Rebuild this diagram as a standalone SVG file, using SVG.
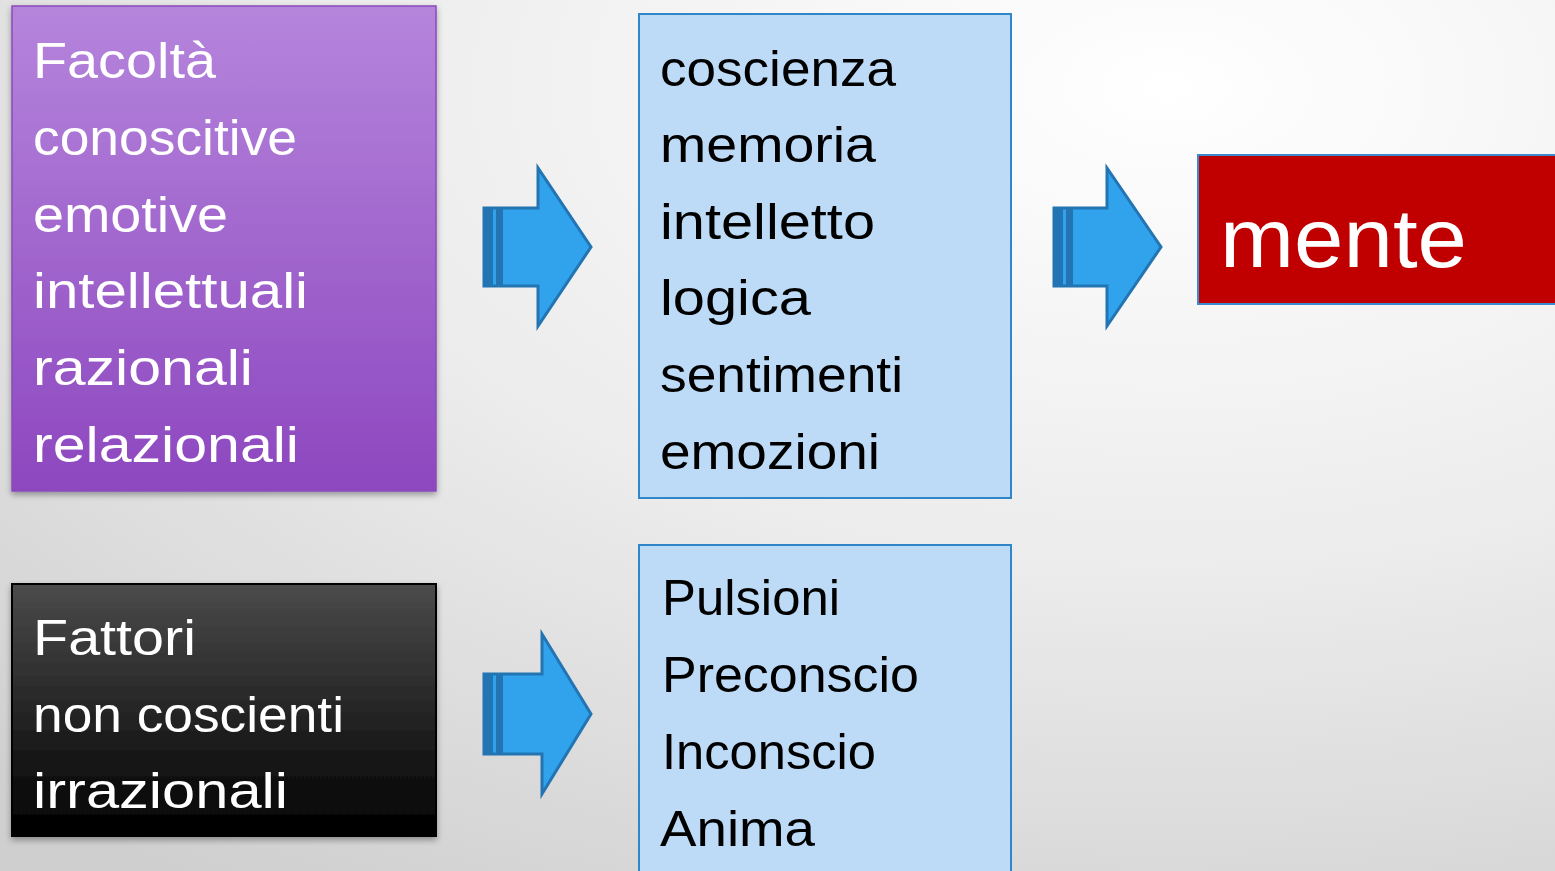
<svg xmlns="http://www.w3.org/2000/svg" width="1555" height="871" viewBox="0 0 1555 871">
<defs>
<radialGradient id="bg" cx="0.75" cy="0.1" r="1.1">
<stop offset="0" stop-color="#ffffff"/>
<stop offset="0.5" stop-color="#ececec"/>
<stop offset="1" stop-color="#cfcfcf"/>
</radialGradient>
<linearGradient id="purple" x1="0" y1="0" x2="0" y2="1">
<stop offset="0" stop-color="#b585dc"/>
<stop offset="1" stop-color="#8d47bf"/>
</linearGradient>
<linearGradient id="dark" x1="0" y1="0" x2="0" y2="1">
<stop offset="0" stop-color="#4b4b4b"/>
<stop offset="1" stop-color="#000000"/>
</linearGradient>
<filter id="sh" x="-5%" y="-5%" width="110%" height="115%">
<feDropShadow dx="0" dy="3" stdDeviation="3" flood-color="#000" flood-opacity="0.35"/>
</filter>
</defs>
<style>
.t{font-family:"Liberation Sans","DejaVu Sans",sans-serif;font-size:50px;}
.w{fill:#ffffff;}
.k{fill:#000000;}
.blue{fill:#bddbf6;stroke:#2f86c9;stroke-width:2;}
.arr{fill:#30a3ec;stroke:#2274b3;stroke-width:3;stroke-linejoin:miter;}
.str{fill:#2274b3;}
.strl{fill:#30a3ec;}
</style>
<rect width="1555" height="871" fill="url(#bg)"/>

<g id="node-facolta">
<rect x="12" y="6" width="424" height="485" fill="url(#purple)" stroke="#8a4bbd" stroke-width="1.5" filter="url(#sh)"/>
<text class="t w" x="33" y="78" textLength="183" lengthAdjust="spacingAndGlyphs">Facoltà</text>
<text class="t w" x="33" y="155" textLength="264" lengthAdjust="spacingAndGlyphs">conoscitive</text>
<text class="t w" x="33" y="232" textLength="195" lengthAdjust="spacingAndGlyphs">emotive</text>
<text class="t w" x="33" y="308" textLength="275" lengthAdjust="spacingAndGlyphs">intellettuali</text>
<text class="t w" x="33" y="385" textLength="220" lengthAdjust="spacingAndGlyphs">razionali</text>
<text class="t w" x="33" y="462" textLength="266" lengthAdjust="spacingAndGlyphs">relazionali</text>
</g>

<g id="node-fattori">
<rect x="12" y="584" width="424" height="252" fill="url(#dark)" stroke="#000" stroke-width="2" filter="url(#sh)"/>
<text class="t w" x="33" y="655" textLength="163" lengthAdjust="spacingAndGlyphs">Fattori</text>
<text class="t w" x="33" y="732" textLength="311" lengthAdjust="spacingAndGlyphs">non coscienti</text>
<text class="t w" x="33" y="808" textLength="255" lengthAdjust="spacingAndGlyphs">irrazionali</text>
</g>

<g id="node-coscienza">
<rect class="blue" x="639" y="14" width="372" height="484"/>
<text class="t k" x="660" y="86" textLength="236" lengthAdjust="spacingAndGlyphs">coscienza</text>
<text class="t k" x="660" y="162" textLength="216" lengthAdjust="spacingAndGlyphs">memoria</text>
<text class="t k" x="660" y="239" textLength="215" lengthAdjust="spacingAndGlyphs">intelletto</text>
<text class="t k" x="660" y="315" textLength="151" lengthAdjust="spacingAndGlyphs">logica</text>
<text class="t k" x="660" y="392" textLength="243" lengthAdjust="spacingAndGlyphs">sentimenti</text>
<text class="t k" x="660" y="469" textLength="220" lengthAdjust="spacingAndGlyphs">emozioni</text>
</g>

<g id="node-pulsioni">
<rect class="blue" x="639" y="545" width="372" height="340"/>
<text class="t k" x="662" y="615" textLength="178" lengthAdjust="spacingAndGlyphs">Pulsioni</text>
<text class="t k" x="662" y="692" textLength="257" lengthAdjust="spacingAndGlyphs">Preconscio</text>
<text class="t k" x="662" y="769" textLength="214" lengthAdjust="spacingAndGlyphs">Inconscio</text>
<text class="t k" x="660" y="846" textLength="155" lengthAdjust="spacingAndGlyphs">Anima</text>
</g>

<g id="node-mente">
<rect x="1198" y="155" width="370" height="149" fill="#c00000" stroke="#3b8ad0" stroke-width="2"/>
<text class="t w" x="1220" y="267" style="font-size:84px" textLength="247" lengthAdjust="spacingAndGlyphs">mente</text>
</g>

<g id="connectors">
<g id="arrow1">
<path class="arr" d="M484,208 L538,208 L538,168 L591,247 L538,326 L538,286 L484,286 Z"/>
<rect class="str" x="484" y="208" width="9" height="78"/>
<rect class="str" x="496" y="208" width="7" height="78"/>
</g>
<g id="arrow2">
<path class="arr" d="M1054,208 L1107,208 L1107,168 L1161,247 L1107,326 L1107,286 L1054,286 Z"/>
<rect class="str" x="1054" y="208" width="9" height="78"/>
<rect class="str" x="1066" y="208" width="7" height="78"/>
</g>
<g id="arrow3">
<path class="arr" d="M484,674 L542,674 L542,634 L591,714 L542,794 L542,754 L484,754 Z"/>
<rect class="str" x="484" y="674" width="9" height="80"/>
<rect class="str" x="496" y="674" width="7" height="80"/>
</g>
</g>
</svg>
